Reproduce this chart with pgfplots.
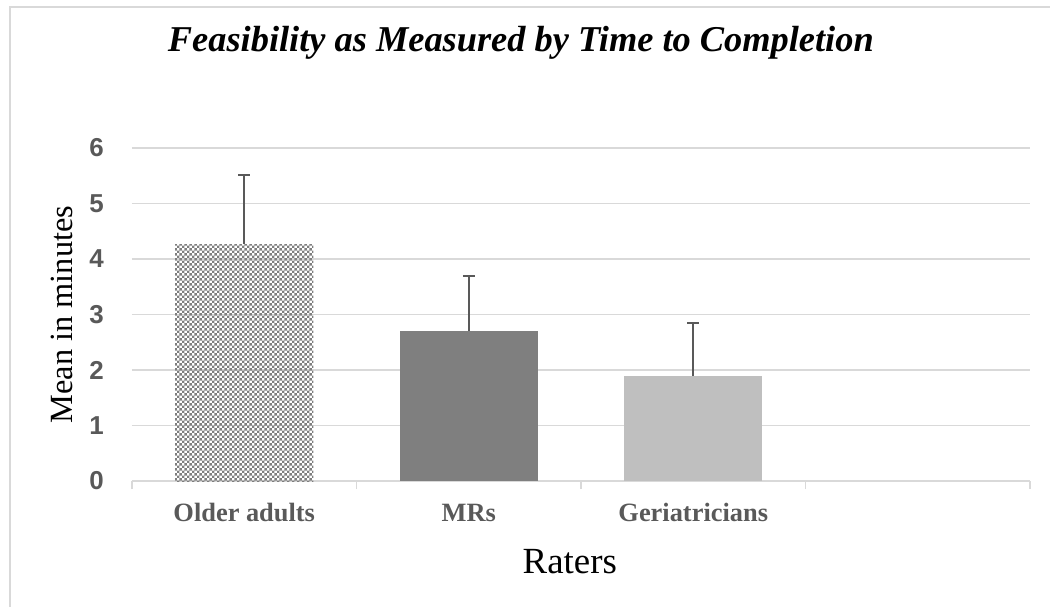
\documentclass[border=0pt]{standalone}
\usepackage{fontspec}
\setmainfont{Liberation Serif}
\setsansfont{Liberation Sans}
\usepackage{pgfplots}
\pgfplotsset{compat=1.18}
\usetikzlibrary{patterns}

\definecolor{gridgray}{HTML}{D9D9D9}
\definecolor{txtgray}{HTML}{595959}
\definecolor{bargray}{HTML}{7F7F7F}
\definecolor{lightbar}{HTML}{BFBFBF}

% small checkerboard like the Excel pattern fill
\pgfdeclarepatternformonly{xcheck}{\pgfqpoint{0pt}{0pt}}{\pgfqpoint{5.4bp}{5.4bp}}{\pgfqpoint{5.4bp}{5.4bp}}{%
  \pgfpathrectangle{\pgfqpoint{0pt}{0pt}}{\pgfqpoint{2.7bp}{2.7bp}}%
  \pgfpathrectangle{\pgfqpoint{2.7bp}{2.7bp}}{\pgfqpoint{2.7bp}{2.7bp}}%
  \pgfusepath{fill}}

\begin{document}
\begin{tikzpicture}
\useasboundingbox (-132bp,-126bp) rectangle (918bp,481bp);
\draw[gridgray, line width=1.5bp] (-122bp,-300bp) rectangle (1100bp,474bp);
\begin{axis}[
    width=898bp, height=333bp, scale only axis,
    ymin=0, ymax=6, xmin=-0.5, xmax=3.5,
    enlargelimits=false,
    ytick={0,1,2,3,4,5,6},
    xtick={0,1,2},
    xticklabels={Older adults, MRs, Geriatricians},
    major tick length=0pt,
    extra x ticks={-0.5,0.5,1.5,2.5,3.5},
    extra x tick labels={},
    extra x tick style={major tick length=8bp, tick align=outside,
        tick style={gridgray, line width=1.5bp}},
    axis x line*=bottom, axis y line*=left,
    x axis line style={gridgray, line width=1.5bp},
    y axis line style={draw=none},
    ytick style={draw=none},
    ymajorgrids, grid style={gridgray, line width=1.5bp},
    ybar, bar width=138bp, bar shift=0pt,
    /pgf/number format/assume math mode=true,
    xticklabel style={font=\fontsize{26.5}{28}\selectfont\bfseries,
        text=txtgray, inner sep=0pt, anchor=base, yshift=-40.5bp},
    yticklabel style={font=\fontsize{26}{28}\selectfont\sffamily\bfseries,
        text=txtgray, inner sep=0pt, anchor=east, xshift=-28bp},
    xlabel={Raters},
    xlabel style={font=\fontsize{37}{40}\selectfont,
        at={(axis description cs:0.4875,0)}, anchor=base, yshift=-92bp},
    ylabel={Mean in minutes},
    ylabel style={font=\fontsize{32.5}{34}\selectfont,
        at={(axis description cs:-0.0668,0.5)}, anchor=base},
    title={Feasibility as Measured by Time to Completion},
    title style={font=\fontsize{36.5}{40}\selectfont\bfseries\itshape,
        at={(axis description cs:0.433,1)}, anchor=base, yshift=91bp},
    error bars/error bar style={txtgray, line width=2bp},
    error bars/error mark options={rotate=90, mark size=6bp, line width=2.2bp, txtgray},
]
\addplot[draw=none, pattern=xcheck, pattern color=bargray,
    error bars/.cd, y dir=plus, y explicit]
    coordinates {(0,4.27) +- (0,1.25)};
\addplot[draw=none, fill=bargray,
    error bars/.cd, y dir=plus, y explicit]
    coordinates {(1,2.71) +- (0,0.99)};
\addplot[draw=none, fill=lightbar,
    error bars/.cd, y dir=plus, y explicit]
    coordinates {(2,1.89) +- (0,0.96)};
\end{axis}
\end{tikzpicture}
\end{document}
